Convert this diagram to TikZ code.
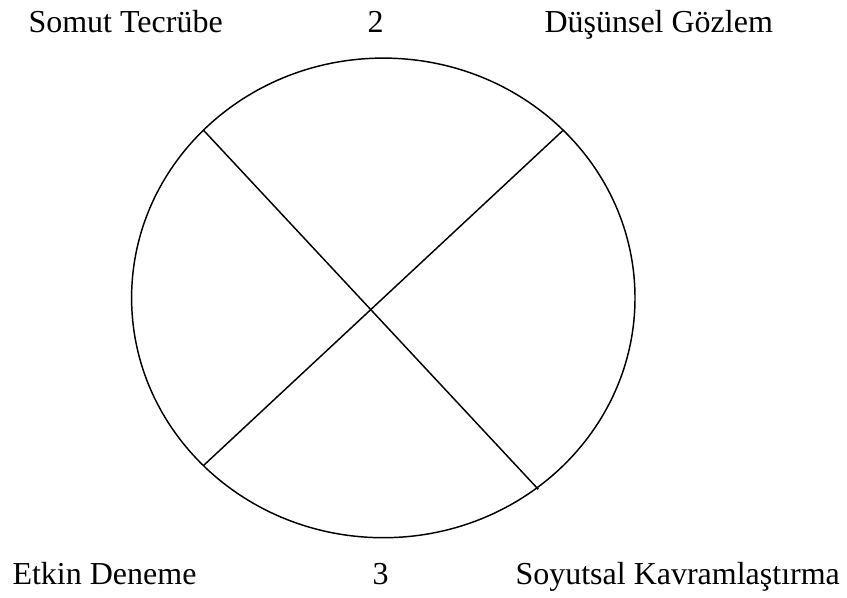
\documentclass[tikz,border=0pt]{standalone}
\usepackage{fontspec}
\setmainfont{Liberation Serif}
\usepackage{tikz}

\begin{document}
\begin{tikzpicture}[x=0.375pt, y=-0.375pt,
    lbl/.style={anchor=base west, inner sep=0pt, font=\fontsize{12}{14}\selectfont},
    axis/.style={line width=0.55pt}]
    \useasboundingbox (0,0) rectangle (847,597);

    % Circle
    \draw[axis] (383.3,297.9) ellipse [x radius=251.7, y radius=239.8];

    % End points of the two diagonals
    \coordinate (tl) at (203.3,130);
    \coordinate (br) at (538.3,489.3);
    \coordinate (tr) at (562.7,130.7);
    \coordinate (bl) at (203.3,465.7);
    \draw[axis] (tl) -- (br);
    \draw[axis] (tr) -- (bl);

    % Top labels
    \node[lbl] (somut) at (28,32) {Somut Tecrübe};
    \node[lbl] (two) at (367,32) {2};
    \node[lbl] (dusun) at (544,32) {Düşünsel Gözlem};

    % Bottom labels
    \node[lbl] (etkin) at (12,584) {Etkin Deneme};
    \node[lbl] (three) at (372,584) {3};
    \node[lbl] (soyut) at (515,584) {Soyutsal Kavramlaştırma};
\end{tikzpicture}
\end{document}
